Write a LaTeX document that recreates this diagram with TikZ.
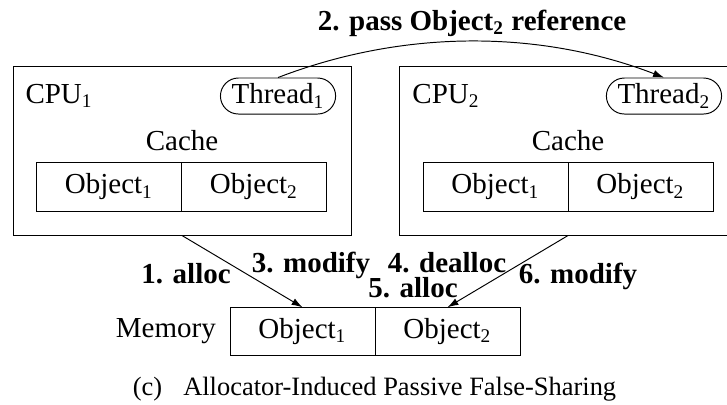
\documentclass[tikz,border=0pt]{standalone}
\usepackage{fontspec}
\setmainfont{Liberation Serif}
\usepackage{tikz}
\usetikzlibrary{arrows.meta,shapes.misc,positioning}

\begin{document}
\begin{tikzpicture}[
    font=\fontsize{12}{14}\selectfont,
    cpubox/.style={draw, minimum width=4.918cm, minimum height=2.459cm, inner sep=0pt},
    thread/.style={draw, rounded rectangle, minimum width=1.746cm, minimum height=0.524cm, inner sep=1pt},
    cell/.style={draw, outer sep=0pt, minimum width=2.11cm, minimum height=0.705cm, inner sep=0pt},
    steplabel/.style={font=\fontsize{12}{14}\selectfont\bfseries, anchor=base, inner sep=0pt},
    arr/.style={-{Latex[length=4.5pt,width=3pt]}}
]
\useasboundingbox (0,0) rectangle (10.577,5.878);

% the two processors
\node[cpubox] (cpuA) at (2.648,3.688) {};
\node[cpubox] (cpuB) at (8.264,3.688) {};
\node[anchor=base west, inner sep=0pt] (nameA) at (0.364,4.379) {CPU\textsubscript{1}};
\node[anchor=base west, inner sep=0pt] (nameB) at (5.994,4.379) {CPU\textsubscript{2}};
\node[thread] (thrA) at (4.045,4.481) {Thread\textsubscript{1}};
\node[thread] (thrB) at (9.660,4.481) {Thread\textsubscript{2}};

% caches
\node[anchor=base, inner sep=0pt] (cacheA) at (2.648,3.695) {Cache};
\node[anchor=base, inner sep=0pt] (cacheB) at (8.264,3.695) {Cache};
\node[cell] (cA1) at (1.586,3.157) {Object\textsubscript{1}};
\node[cell, right=0pt of cA1] (cA2) {Object\textsubscript{2}};
\node[cell] (cB1) at (7.209,3.157) {Object\textsubscript{1}};
\node[cell, right=0pt of cB1] (cB2) {Object\textsubscript{2}};

% memory
\node[cell] (m1) at (4.401,1.055) {Object\textsubscript{1}};
\node[cell, right=0pt of m1] (m2) {Object\textsubscript{2}};
\node[left=0.2cm of m1, inner sep=0pt] (mem) {Memory};

\draw[arr] (thrA.north) .. controls +(1.82,0.70) and +(-1.82,0.70) .. (thrB.north);
\draw[arr] (cpuA.south) -- (m1.north);
\draw[arr] (cpuB.south) -- (m2.north);

\node[steplabel] (s2) at (6.867,5.441) {2. pass Object\textsubscript{2} reference};
\node[steplabel] (s1) at (2.706,1.760) {1. alloc};
\node[steplabel] (s3) at (4.524,1.920) {3. modify};
\node[steplabel] (s4) at (6.503,1.920) {4. dealloc};
\node[steplabel] (s5) at (6.008,1.556) {5. alloc};
\node[steplabel] (s6) at (8.409,1.760) {6. modify};

\node[anchor=base, inner sep=0pt, font=\fontsize{10.95}{13.6}\selectfont] (caption) at (5.448,0.131) {(c)\hspace{0.8em}Allocator-Induced Passive False-Sharing};
\end{tikzpicture}
\end{document}
